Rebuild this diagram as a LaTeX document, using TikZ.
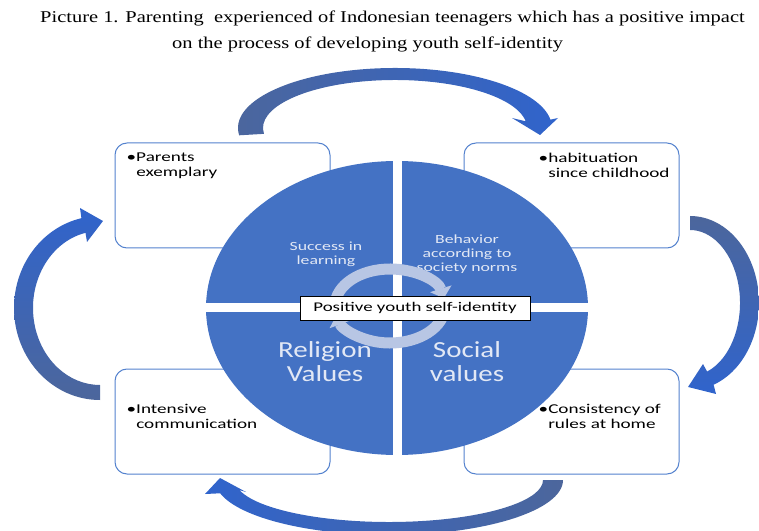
\documentclass[tikz,border=0pt]{standalone}
\usepackage{fontspec}
\setmainfont{Carlito}
\newfontfamily\titlefont[FakeStretch=1.24]{Liberation Serif}
\newfontfamily\widefont[FakeStretch=1.42]{Carlito}
\newfontfamily\quadfont[FakeStretch=1.26]{Carlito}
\usetikzlibrary{arrows.meta, calc, positioning}

\definecolor{quadblue}{RGB}{68,114,196}
\definecolor{frameblue}{RGB}{84,130,206}
\definecolor{tailblue}{RGB}{76,102,156}
\definecolor{headblue}{RGB}{48,100,204}
\definecolor{cyclegrey}{RGB}{184,198,228}
\definecolor{quadtext}{RGB}{226,232,245}

\begin{document}
\begin{tikzpicture}[x=1pt, y=1pt,
    box/.style={draw=frameblue, line width=1, rounded corners=12, fill=white,
      minimum width=215, minimum height=105, inner sep=0},
    boxtext/.style={anchor=north west, align=left, inner sep=0,
      font=\widefont\fontsize{13.5}{15}\selectfont},
    quadsmall/.style={align=center, inner sep=0, text=quadtext,
      font=\widefont\fontsize{12.5}{14}\selectfont},
    quadbig/.style={align=center, inner sep=0, text=quadtext,
      font=\quadfont\fontsize{23}{24}\selectfont},
    titleline/.style={anchor=west, inner sep=0,
      font=\titlefont\fontsize{16.5}{18}\selectfont},
    cyclearrow/.style={draw=cyclegrey, line width=11, -{Triangle[width=22pt, length=10pt]}},
    corelabel/.style={draw=black, line width=0.9, fill=white, minimum width=230,
      minimum height=24, inner sep=0, font=\widefont\fontsize{13.3}{15}\selectfont}]
    \useasboundingbox (0,0) rectangle (759,530);
    \clip (0,0) rectangle (759,530);

    % Title
    \node[titleline] (title1) at (40,512)
        {Picture 1. Parenting \ experienced of Indonesian teenagers which has a positive impact};
    \node[titleline] (title2) at (172,486)
        {on the process of developing youth self-identity};

    % Corner boxes
    \node[box] (tl) at (222.5,334.5) {};
    \node[box] (tr) at (571.5,334.5) {};
    \node[box] (bl) at (222.5,108.5) {};
    \node[box] (br) at (571.5,108.5) {};

    \node[boxtext] (tltext) at ($(tl.north west)+(12,-10)$)
        {•Parents\\\hphantom{•}exemplary};
    \node[boxtext] (trtext) at ($(tr.north west)+(75,-10)$)
        {•habituation\\\hphantom{•}since childhood};
    \node[boxtext] (bltext) at ($(bl.north west)+(12,-36)$)
        {•Intensive\\\hphantom{•}communication};
    \node[boxtext] (brtext) at ($(br.north west)+(75,-36)$)
        {•Consistency of\\\hphantom{•}rules at home};

    % Quartered disc
    \coordinate (hub) at (397,222);
    \fill[quadblue] (hub) ellipse[x radius=191, y radius=147];
    \draw[white, line width=9] ($(hub)+(-192,0)$) -- ($(hub)+(192,0)$);
    \draw[white, line width=9] ($(hub)+(0,-148)$) -- ($(hub)+(0,148)$);

    \node[quadsmall] (learn) at (326,276) {Success in\\learning};
    \node[quadsmall] (norms) at (467,276) {Behavior\\according to\\society norms};
    \node[quadbig] (religion) at (325,168) {Religion\\Values};
    \node[quadbig] (social) at (467,168) {Social\\values};

    % Inner cycle
    \coordinate (cyc) at (390,224);
    \draw[cyclearrow] ($(cyc)+(185:55 and 37)$)
        arc[start angle=185, end angle=12, x radius=55, y radius=37];
    \draw[cyclearrow] ($(cyc)+(-12:55 and 37)$)
        arc[start angle=-12, end angle=-166, x radius=55, y radius=37];

    \node[corelabel] (core) at (415,222) {Positive youth self-identity};

    % Outer arrows
    \coordinate (topc) at (395,402);
    \shade[left color=tailblue, right color=headblue]
        ($(topc)+(187:157 and 60)$) arc[start angle=187, end angle=8, x radius=157, y radius=60]
        -- (558,412) -- (540,395) -- (512,412)
        -- ($(topc)+(8:132 and 48)$) arc[start angle=8, end angle=187, x radius=132, y radius=48]
        -- cycle;

    \coordinate (rightc) at (690,227);
    \shade[top color=tailblue, bottom color=headblue]
        ($(rightc)+(90:69 and 87)$) arc[start angle=90, end angle=-70, x radius=69, y radius=87]
        -- (716,136) -- (688,143) -- (703,166)
        -- ($(rightc)+(-70:50 and 73)$) arc[start angle=-70, end angle=90, x radius=50, y radius=73]
        -- cycle;

    \coordinate (botc) at (389,50);
    \shade[left color=headblue, right color=tailblue]
        ($(botc)+(0:174 and 55)$) arc[start angle=360, end angle=194, x radius=174, y radius=55]
        -- (205,36) -- (220,52) -- (246,38)
        -- ($(botc)+(194:154 and 42)$) arc[start angle=194, end angle=360, x radius=154, y radius=42]
        -- cycle;

    \coordinate (leftc) at (100,222);
    \shade[bottom color=tailblue, top color=headblue]
        ($(leftc)+(270:86 and 92)$) arc[start angle=270, end angle=102.5, x radius=86, y radius=92]
        -- (80,322) -- (103,309) -- (87,288)
        -- ($(leftc)+(102.5:67 and 77)$) arc[start angle=102.5, end angle=270, x radius=67, y radius=77]
        -- cycle;
\end{tikzpicture}
\end{document}
